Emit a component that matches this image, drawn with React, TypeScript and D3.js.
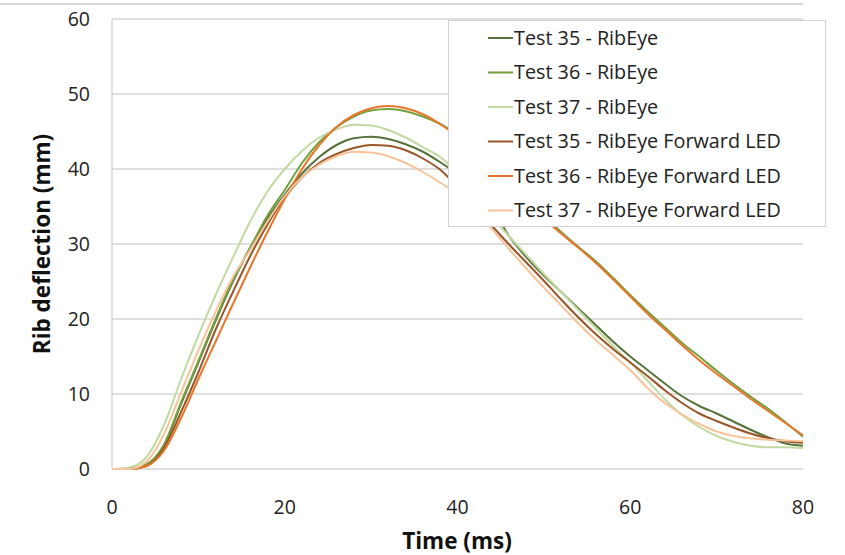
import React, { useEffect, useRef } from "react";
import * as d3 from "d3";

const timeMs = [0, 2, 4, 6, 8, 10, 12, 14, 16, 18, 20, 22, 24, 26, 28, 30, 32, 34, 36, 38, 40,
  42, 44, 46, 48, 50, 52, 54, 56, 58, 60, 62, 64, 66, 68, 70, 72, 74, 76, 78, 80];

const test35RibEye = [0, 0, 0.6, 3.1, 8.7, 14.2, 19.8, 25.0, 29.5, 33.4, 36.6, 39.4, 41.6, 43.2, 44.1, 44.3, 44.0, 43.3, 42.3, 40.9, 39.3,
  37.2, 34.8, 31.0, 28.2, 25.8, 23.6, 21.4, 19.2, 17.0, 15.0, 13.2, 11.4, 9.7, 8.4, 7.4, 6.3, 5.2, 4.2, 3.4, 3.1];
const test36RibEye = [0, 0, 0.6, 3.2, 8.9, 14.4, 20.0, 25.2, 29.5, 33.8, 37.2, 40.8, 43.6, 45.6, 47.0, 47.8, 48.0, 47.7, 47.0, 46.0, 44.6,
  42.7, 40.4, 38.1, 35.9, 33.7, 31.6, 29.6, 27.7, 25.5, 23.2, 21.0, 18.9, 16.8, 15.0, 13.1, 11.3, 9.6, 8.0, 6.2, 4.3];
const test37RibEye = [0, 0.2, 1.6, 5.8, 12.0, 17.8, 23.2, 28.2, 33.0, 37.0, 40.0, 42.4, 44.2, 45.3, 45.9, 45.8, 45.2, 44.2, 42.9, 41.6, 39.4,
  36.6, 33.6, 31.0, 28.5, 26.0, 23.6, 21.2, 18.8, 16.4, 14.2, 11.8, 9.3, 7.2, 5.6, 4.4, 3.6, 3.1, 2.9, 2.9, 2.8];
const test35Forward = [0, 0, 0.4, 2.8, 7.6, 12.9, 18.6, 23.6, 28.4, 32.6, 36.2, 38.9, 40.8, 42.0, 42.8, 43.2, 43.1, 42.5, 41.4, 39.9, 37.6,
  35.0, 32.4, 29.9, 27.5, 25.1, 22.6, 20.2, 18.0, 16.0, 14.2, 12.4, 10.5, 8.8, 7.4, 6.4, 5.5, 4.7, 4.1, 3.7, 3.5];
const test36Forward = [0, 0, 0.4, 2.4, 6.8, 12.0, 17.0, 22.0, 26.9, 31.6, 36.0, 40.0, 43.2, 45.6, 47.2, 48.1, 48.4, 48.1, 47.3, 46.0, 44.3,
  42.2, 40.0, 37.8, 35.6, 33.4, 31.4, 29.5, 27.5, 25.3, 23.0, 20.7, 18.6, 16.5, 14.5, 12.7, 11.0, 9.3, 7.7, 6.1, 4.5];
const test37Forward = [0, 0, 1.0, 4.6, 10.2, 15.8, 21.0, 25.6, 29.2, 33.0, 36.4, 38.9, 40.6, 41.7, 42.3, 42.2, 41.7, 40.8, 39.6, 38.2, 36.6,
  34.6, 32.0, 29.3, 26.7, 24.2, 21.8, 19.4, 17.2, 15.2, 13.2, 10.8, 8.8, 7.3, 6.0, 5.0, 4.4, 4.1, 3.9, 3.8, 3.7];

const seriesNames = [
  "Test 35 - RibEye",
  "Test 36 - RibEye",
  "Test 37 - RibEye",
  "Test 35 - RibEye Forward LED",
  "Test 36 - RibEye Forward LED",
  "Test 37 - RibEye Forward LED",
];
const seriesValues = [test35RibEye, test36RibEye, test37RibEye, test35Forward, test36Forward, test37Forward];
const seriesColors = ["#55733a", "#72a03c", "#c2d9a2", "#9a5528", "#e8762a", "#f7c39a"];

const xTicks = [0, 20, 40, 60, 80];
const yTicks = [0, 10, 20, 30, 40, 50, 60];

const W = 845;
const H = 555;
const margin = { left: 112, right: 42, top: 19, bottom: 86 };
const FONT = "'Open Sans', 'DejaVu Sans', sans-serif";

const App = () => {
  const ref = useRef<SVGSVGElement>(null);

  useEffect(() => {
    const svg = d3.select(ref.current);
    svg.selectAll("*").remove();

    const x = d3.scaleLinear().domain([0, 80]).range([margin.left, W - margin.right]);
    const y = d3.scaleLinear().domain([0, 60]).range([H - margin.bottom, margin.top]);

    // chart area border (only top edge visible)
    svg.append("line")
      .attr("x1", 0).attr("x2", x(80)).attr("y1", 4).attr("y2", 4)
      .attr("stroke", "#d9d9d9").attr("stroke-width", 2);

    // gridlines
    svg.append("g").selectAll("line").data(yTicks).join("line")
      .attr("x1", x(0)).attr("x2", x(80))
      .attr("y1", d => y(d)).attr("y2", d => y(d))
      .attr("stroke", "#d4d4d4").attr("stroke-width", 1.3);

    svg.append("line")
      .attr("x1", x(0)).attr("x2", x(0)).attr("y1", y(60)).attr("y2", y(0))
      .attr("stroke", "#cfcfcf").attr("stroke-width", 1.3);

    // tick labels
    svg.append("g").selectAll("text").data(yTicks).join("text")
      .attr("x", x(0) - 22).attr("y", d => y(d)).attr("dy", "0.35em")
      .attr("text-anchor", "end").attr("font-family", FONT).attr("font-size", 19.5)
      .attr("fill", "#222").text(d => d);

    svg.append("g").selectAll("text").data(xTicks).join("text")
      .attr("x", d => x(d)).attr("y", y(0) + 38).attr("dy", "0.35em")
      .attr("text-anchor", "middle").attr("font-family", FONT).attr("font-size", 19.5)
      .attr("fill", "#222").text(d => d);

    // axis titles
    svg.append("text")
      .attr("x", 457).attr("y", 541).attr("dy", "0.35em")
      .attr("text-anchor", "middle").attr("font-family", FONT).attr("font-size", 22.5)
      .attr("font-weight", "bold").attr("fill", "#111").text("Time (ms)");

    svg.append("text")
      .attr("transform", `translate(42,${(y(0) + y(60)) / 2}) rotate(-90)`)
      .attr("dy", "0.35em")
      .attr("text-anchor", "middle").attr("font-family", FONT).attr("font-size", 22.5)
      .attr("font-weight", "bold").attr("fill", "#111").text("Rib deflection (mm)");

    // series lines
    const line = d3.line<number>()
      .x((_, i) => x(timeMs[i]))
      .y(d => y(d))
      .curve(d3.curveMonotoneX);

    svg.append("g").selectAll("path").data(seriesValues).join("path")
      .attr("d", d => line(d))
      .attr("fill", "none")
      .attr("stroke", (_, i) => seriesColors[i])
      .attr("stroke-width", 2);

    // legend
    const lg = svg.append("g");
    lg.append("rect")
      .attr("x", 448.5).attr("y", 20.5).attr("width", 377).attr("height", 206)
      .attr("fill", "#fff").attr("stroke", "#d0d0d0").attr("stroke-width", 1);

    const rows = lg.selectAll("g.row").data(seriesNames).join("g")
      .attr("class", "row")
      .attr("transform", (_, i) => `translate(488,${38 + i * 34.5})`);
    rows.append("line")
      .attr("x1", 0).attr("x2", 25).attr("y1", 0).attr("y2", 0)
      .attr("stroke", (_, i) => seriesColors[i]).attr("stroke-width", 2);
    rows.append("text")
      .attr("x", 26).attr("y", 0).attr("dy", "0.35em")
      .attr("font-family", FONT).attr("font-size", 19.8).attr("fill", "#222")
      .text(d => d);
  }, []);

  return (
    <svg ref={ref} width={W} height={H}
      style={{ position: "absolute", left: 0, top: 0, background: "#fff" }} />
  );
};

export default App;
